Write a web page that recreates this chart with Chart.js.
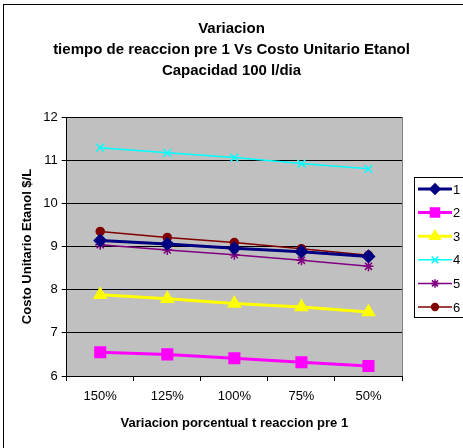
<!DOCTYPE html>
<html>
<head>
<meta charset="utf-8">
<script src="https://cdn.jsdelivr.net/npm/chart.js@4/dist/chart.umd.min.js"></script>
<style>
  html, body { margin: 0; padding: 0; background: #fff; }
  canvas { display: block; }
</style>
</head>
<body>
<canvas id="chart" width="463" height="448"></canvas>
<script>
// categorias del eje x
const categorias = ['150%', '125%', '100%', '75%', '50%'];
// valores de cada serie (costo unitario $/L)
const serie1 = [9.14, 9.06, 8.96, 8.88, 8.77];
const serie2 = [6.55, 6.50, 6.41, 6.32, 6.23];
const serie3 = [7.88, 7.79, 7.68, 7.60, 7.48];
const serie4 = [11.29, 11.17, 11.06, 10.92, 10.80];
const serie5 = [9.04, 8.92, 8.81, 8.68, 8.54];
const serie6 = [9.35, 9.21, 9.09, 8.95, 8.80];
const nombresSeries = ['1', '2', '3', '4', '5', '6'];
const ejeY = { min: 6, max: 12, paso: 1 };

const FONT = "'Liberation Sans', Arial, sans-serif";

function serie(label, data, color, style, radius, width) {
    return {
        label: label,
        data: data,
        borderColor: color,
        backgroundColor: color,
        pointBorderColor: color,
        pointBackgroundColor: color,
        pointStyle: style,
        pointRadius: radius,
        pointHoverRadius: radius,
        pointBorderWidth: 1.5,
        borderWidth: width,
        tension: 0,
        fill: false
    };
}

// fondo gris del area de trazado + marco exterior
const fondoPlugin = {
    id: 'fondo',
    afterLayout(chart) {
        // titulo centrado en todo el ancho, no solo sobre el area con padding
        if (chart.titleBlock) {
            chart.titleBlock.left = 0;
            chart.titleBlock.right = chart.width;
        }
    },
    beforeDraw(chart) {
        const { ctx, chartArea: a } = chart;
        ctx.save();
        ctx.fillStyle = '#fff';
        ctx.fillRect(0, 0, chart.width, chart.height);
        ctx.strokeStyle = '#000';
        ctx.lineWidth = 1;
        ctx.strokeRect(3.5, 4.5, chart.width + 10, chart.height + 10);
        ctx.fillStyle = '#C0C0C0';
        ctx.fillRect(a.left, a.top, a.right - a.left, a.bottom - a.top);
        ctx.strokeStyle = '#808080';
        ctx.beginPath();
        ctx.moveTo(Math.round(a.right) + 0.5, a.top);
        ctx.lineTo(Math.round(a.right) + 0.5, a.bottom);
        ctx.stroke();
        ctx.restore();
    }
};

// leyenda al estilo Excel (linea + marcador)
const leyendaPlugin = {
    id: 'leyenda',
    afterDraw(chart) {
        const ctx = chart.ctx;
        const x0 = 414, y0 = 177, w = 50, h = 140;
        ctx.save();
        ctx.fillStyle = '#fff';
        ctx.fillRect(x0, y0, w, h);
        ctx.strokeStyle = '#000';
        ctx.lineWidth = 1;
        ctx.strokeRect(x0 + 0.5, y0 + 0.5, w, h);
        chart.data.datasets.forEach((ds, i) => {
            const y = y0 + 12 + i * 23.6;
            ctx.strokeStyle = ds.borderColor;
            ctx.lineWidth = ds.borderWidth;
            ctx.beginPath();
            ctx.moveTo(418, y);
            ctx.lineTo(452, y);
            ctx.stroke();
            ctx.fillStyle = ds.pointBackgroundColor;
            ctx.strokeStyle = ds.pointBorderColor;
            ctx.lineWidth = ds.pointBorderWidth;
            Chart.helpers.drawPoint(ctx, {
                pointStyle: ds.pointStyle,
                radius: ds.pointRadius * 0.85,
                rotation: 0,
                borderWidth: ds.pointBorderWidth
            }, 435, y);
            ctx.fillStyle = '#000';
            ctx.font = '13px ' + FONT;
            ctx.textAlign = 'left';
            ctx.textBaseline = 'middle';
            ctx.fillText(ds.label, 453, y + 1);
        });
        ctx.restore();
    }
};

new Chart(document.getElementById('chart'), {
    type: 'line',
    data: {
        labels: categorias,
        datasets: [
            serie(nombresSeries[0], serie1, '#000080', 'rectRot', 6, 3),
            serie(nombresSeries[1], serie2, '#FF00FF', 'rect', 7.5, 3),
            serie(nombresSeries[2], serie3, '#FFFF00', 'triangle', 7, 3),
            serie(nombresSeries[3], serie4, '#00FFFF', 'crossRot', 5.5, 1.5),
            serie(nombresSeries[4], serie5, '#800080', 'star', 5, 1.5),
            serie(nombresSeries[5], serie6, '#800000', 'circle', 4, 1.5)
        ]
    },
    options: {
        responsive: false,
        animation: false,
        devicePixelRatio: 1,
        layout: { padding: { left: 10, right: 61, top: 0, bottom: 0 } },
        plugins: {
            legend: { display: false },
            tooltip: { enabled: false },
            title: {
                display: true,
                text: ['Variacion', 'tiempo de reaccion pre 1 Vs Costo Unitario Etanol', 'Capacidad 100 l/dia'],
                color: '#000',
                font: { family: FONT, size: 15, weight: 'bold', lineHeight: 1.4 },
                padding: { top: 18, bottom: 36 }
            }
        },
        scales: {
            x: {
                offset: true,
                grid: { drawOnChartArea: false, offset: true, tickLength: 5, color: '#000' },
                border: { display: true, color: '#000' },
                ticks: { color: '#000', font: { family: FONT, size: 13 }, padding: 8, maxRotation: 0 },
                title: {
                    display: true,
                    text: 'Variacion porcentual t reaccion pre 1',
                    color: '#000',
                    font: { family: FONT, size: 13, weight: 'bold' },
                    padding: { top: 0, bottom: 17 }
                },
                afterFit(scale) { scale.height = 72; }
            },
            y: {
                min: ejeY.min,
                max: ejeY.max,
                grid: { color: '#000', tickLength: 5 },
                border: { display: true, color: '#000' },
                ticks: { stepSize: ejeY.paso, color: '#000', font: { family: FONT, size: 13 }, padding: 4 },
                title: {
                    display: true,
                    text: 'Costo Unitario Etanol $/L',
                    color: '#000',
                    font: { family: FONT, size: 13, weight: 'bold' },
                    padding: { top: 10, bottom: 0 }
                },
                afterFit(scale) { scale.width = 56.7; }
            }
        }
    },
    plugins: [fondoPlugin, leyendaPlugin]
});
</script>
</body>
</html>
